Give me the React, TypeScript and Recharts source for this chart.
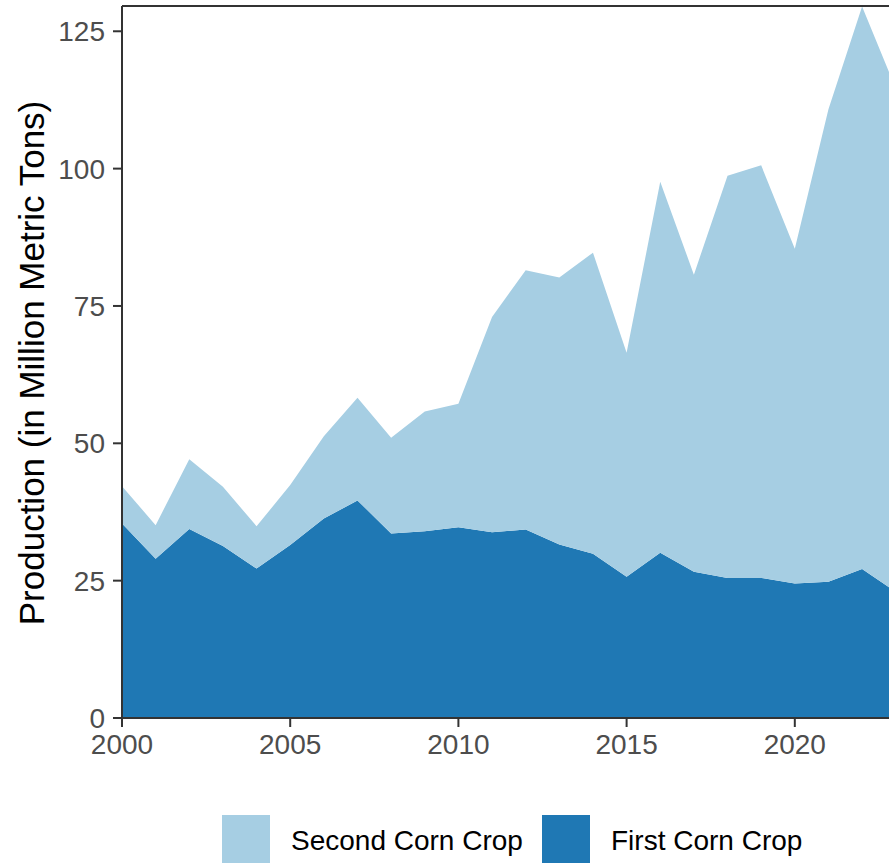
import { AreaChart, Area, XAxis, YAxis, Legend, ReferenceLine } from "recharts";

const years = [
  2000, 2001, 2002, 2003, 2004, 2005, 2006, 2007, 2008, 2009, 2010, 2011,
  2012, 2013, 2014, 2015, 2016, 2017, 2018, 2019, 2020, 2021, 2022, 2023,
];
const firstCrop = [
  35.4, 29.0, 34.4, 31.3, 27.2, 31.5, 36.3, 39.6, 33.6, 34.0, 34.7, 33.8,
  34.3, 31.6, 29.9, 25.7, 30.1, 26.6, 25.5, 25.5, 24.5, 24.8, 27.1, 23.0,
];
const secondCrop = [
  6.8, 6.1, 12.7, 10.8, 7.7, 10.9, 15.0, 18.7, 17.4, 21.8, 22.5, 39.2,
  47.2, 48.6, 54.8, 40.8, 67.5, 54.1, 73.2, 75.1, 60.9, 86.0, 102.4, 91.6,
];
const xTicks = [2000, 2005, 2010, 2015, 2020];
const yTicks = [0, 25, 50, 75, 100, 125];
const yMax = 129.6;

const LIGHT = "#a6cee3";
const DARK = "#1f78b4";
const FONT = '"Liberation Sans", Arial, sans-serif';

const data = years.map((year, i) => ({ year, first: firstCrop[i], second: secondCrop[i] }));

const legendItems = [
  { name: "Second Corn Crop", color: LIGHT, left: 222 },
  { name: "First Corn Crop", color: DARK, left: 542 },
];

const YLabel = (props: any) => {
  const vb = props.viewBox || { x: 0, y: 6, width: 122, height: 712 };
  const cx = 44;
  const cy = vb.y + vb.height / 2 + 1;
  return (
    <text
      x={cx}
      y={cy}
      transform={`rotate(-90 ${cx} ${cy})`}
      textAnchor="middle"
      fontSize={35}
      fontFamily={FONT}
      fill="#000"
    >
      Production (in Million Metric Tons)
    </text>
  );
};

const LegendContent = () => (
  <div style={{ position: "relative", width: 889, height: 60, fontFamily: FONT }}>
    {legendItems.map((it) => (
      <div key={it.name}>
        <div
          style={{ position: "absolute", left: it.left, top: 12, width: 48, height: 48, background: it.color }}
        />
        <div
          style={{
            position: "absolute",
            left: it.left + 69,
            top: 14,
            height: 48,
            lineHeight: "48px",
            fontSize: 28,
            color: "#000",
            whiteSpace: "nowrap",
          }}
        >
          {it.name}
        </div>
      </div>
    ))}
  </div>
);

export default function App() {
  const tick = { fontSize: 28, fill: "#4d4d4d", fontFamily: FONT };
  return (
    <div style={{ position: "absolute", left: 0, top: 0, width: 889, height: 863, background: "#fff" }}>
      <AreaChart width={889} height={863} data={data} margin={{ top: 6, right: 0, bottom: 0, left: 0 }}>
        <XAxis
          dataKey="year"
          type="number"
          domain={[2000, 2022.8]}
          allowDataOverflow
          ticks={xTicks}
          height={85}
          tick={tick}
          tickSize={9}
          tickMargin={7}
          axisLine={{ stroke: "#333", strokeWidth: 2 }}
          tickLine={{ stroke: "#333", strokeWidth: 2 }}
        />
        <YAxis
          type="number"
          domain={[0, yMax]}
          allowDataOverflow
          ticks={yTicks}
          width={122}
          tick={tick}
          tickSize={9}
          tickMargin={8}
          axisLine={{ stroke: "#333", strokeWidth: 2 }}
          tickLine={{ stroke: "#333", strokeWidth: 2 }}
          label={<YLabel />}
        />
        <Area
          type="linear"
          dataKey="first"
          stackId="1"
          fill={DARK}
          fillOpacity={1}
          stroke="none"
          isAnimationActive={false}
        />
        <Area
          type="linear"
          dataKey="second"
          stackId="1"
          fill={LIGHT}
          fillOpacity={1}
          stroke="none"
          isAnimationActive={false}
        />
        <ReferenceLine y={yMax} stroke="#333" strokeWidth={2} ifOverflow="extendDomain" />
        <Legend verticalAlign="bottom" height={60} content={<LegendContent />} />
      </AreaChart>
    </div>
  );
}
